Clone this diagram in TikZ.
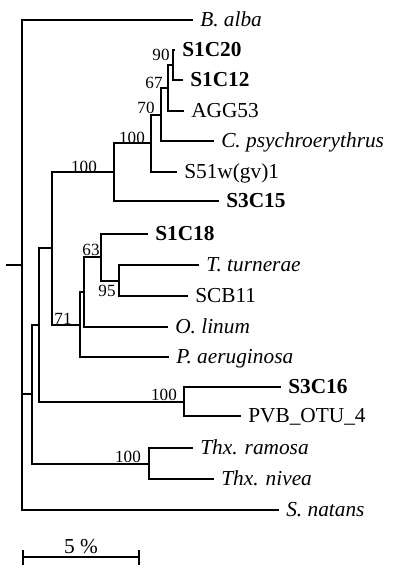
\documentclass[tikz,border=0pt]{standalone}
\usepackage{fontspec}
\setmainfont{Liberation Serif}
\begin{document}
\begin{tikzpicture}[x=0.75pt,y=-0.75pt,
  br/.style={line width=1.5pt, line join=miter, line cap=rect},
  leaf/.style={anchor=base west, inner xsep=6pt, inner ysep=0pt, yshift=-5.2pt, font=\fontsize{16}{19}\selectfont},
  itleaf/.style={leaf, font=\fontsize{16}{19}\selectfont\itshape},
  bfleaf/.style={leaf, font=\fontsize{16}{19}\selectfont\bfseries},
  boot/.style={anchor=base, inner sep=0pt, font=\fontsize{12.8}{15}\selectfont}]
\useasboundingbox (0,0) rectangle (400,576);

% internal nodes
\coordinate (root) at (22,265);
\coordinate (rootstub) at (7,265);
\coordinate (L) at (32,394);
\coordinate (J) at (39,325);
\coordinate (A) at (52,248);
\coordinate (B) at (114,172);
\coordinate (C) at (151,143);
\coordinate (D) at (161,115);
\coordinate (E) at (168,88);
\coordinate (N) at (173,65);
\coordinate (F) at (80,325);
\coordinate (G) at (84,292);
\coordinate (H) at (101,257);
\coordinate (I) at (119,281);
\coordinate (K) at (184,402);
\coordinate (M) at (149,464);

% leaf tips
\coordinate (tBalba) at (192,20);
\coordinate (tS1C20) at (174,50);
\coordinate (tS1C12) at (182,80);
\coordinate (tAGG) at (183,111);
\coordinate (tCpsy) at (213,141);
\coordinate (tS51) at (176,172);
\coordinate (tS3C15) at (218,201);
\coordinate (tS1C18) at (147,234);
\coordinate (tTturn) at (198,265);
\coordinate (tSCB) at (187,296);
\coordinate (tOlin) at (167,327);
\coordinate (tPaer) at (168,357);
\coordinate (tS3C16) at (280,387);
\coordinate (tPVB) at (240,416);
\coordinate (tThxr) at (192,448);
\coordinate (tThxn) at (213,479);
\coordinate (tSnat) at (278,510);

% leaf labels
\node[itleaf] (balba) at (tBalba) {B. alba};
\node[bfleaf] (s1c20) at (tS1C20) {S1C20};
\node[bfleaf] (s1c12) at (tS1C12) {S1C12};
\node[leaf] (agg) at (tAGG) {AGG53};
\node[itleaf] (cpsy) at (tCpsy) {C. psychroerythrus};
\node[leaf] (s51) at (tS51) {S51w(gv)1};
\node[bfleaf] (s3c15) at (tS3C15) {S3C15};
\node[bfleaf] (s1c18) at (tS1C18) {S1C18};
\node[itleaf] (tturn) at (tTturn) {T. turnerae};
\node[leaf] (scb) at (tSCB) {SCB11};
\node[itleaf] (olin) at (tOlin) {O. linum};
\node[itleaf] (paer) at (tPaer) {P. aeruginosa};
\node[bfleaf] (s3c16) at (tS3C16) {S3C16};
\node[leaf] (pvb) at (tPVB) {PVB\_OTU\_4};
\node[itleaf] (thxr) at (tThxr) {Thx. ramosa};
\node[itleaf] (thxn) at (tThxn) {Thx. nivea};
\node[itleaf] (snat) at (tSnat) {S. natans};

% branches
\draw[br] (rootstub) -- (root);
\draw[br] (tBalba) -| (root) |- (tSnat);
\draw[br] (L) -| (root);
\draw[br] (J) -| (L) |- (M);
\draw[br] (A) -| (J) |- (K);
\draw[br] (B) -| (A) |- (F);
\draw[br] (C) -| (B) |- (tS3C15);
\draw[br] (D) -| (C) |- (tS51);
\draw[br] (E) -| (D) |- (tCpsy);
\draw[br] (N) -| (E) |- (tAGG);
\draw[br] (tS1C20) -| (N) |- (tS1C12);
\draw[br] (G) -| (F) |- (tPaer);
\draw[br] (H) -| (G) |- (tOlin);
\draw[br] (tS1C18) -| (H) |- (I);
\draw[br] (tTturn) -| (I) |- (tSCB);
\draw[br] (tS3C16) -| (K) |- (tPVB);
\draw[br] (tThxr) -| (M) |- (tThxn);

% bootstrap values
\node[boot] (b90) at (161,60) {90};
\node[boot] (b67) at (154,88) {67};
\node[boot] (b70) at (146,113) {70};
\node[boot] (b100B) at (132,143) {100};
\node[boot] (b100A) at (84,172) {100};
\node[boot] (b63) at (91,255) {63};
\node[boot] (b95) at (107,296) {95};
\node[boot] (b71) at (63,324) {71};
\node[boot] (b100K) at (164,400) {100};
\node[boot] (b100M) at (128,462) {100};

% scale bar
\coordinate (s1) at (23,557);
\coordinate (s2) at (139,557);
\coordinate (s1t) at (23,550);
\coordinate (s1b) at (23,565);
\coordinate (s2t) at (139,550);
\coordinate (s2b) at (139,565);
\draw[br, line cap=butt] (s1) -- (s2);
\draw[br, line cap=butt] (s1t) -- (s1b);
\draw[br, line cap=butt] (s2t) -- (s2b);
\node[anchor=base, inner sep=0pt, font=\fontsize{16}{19}\selectfont] (scalelabel) at (81,553) {5 \%};
\end{tikzpicture}
\end{document}
